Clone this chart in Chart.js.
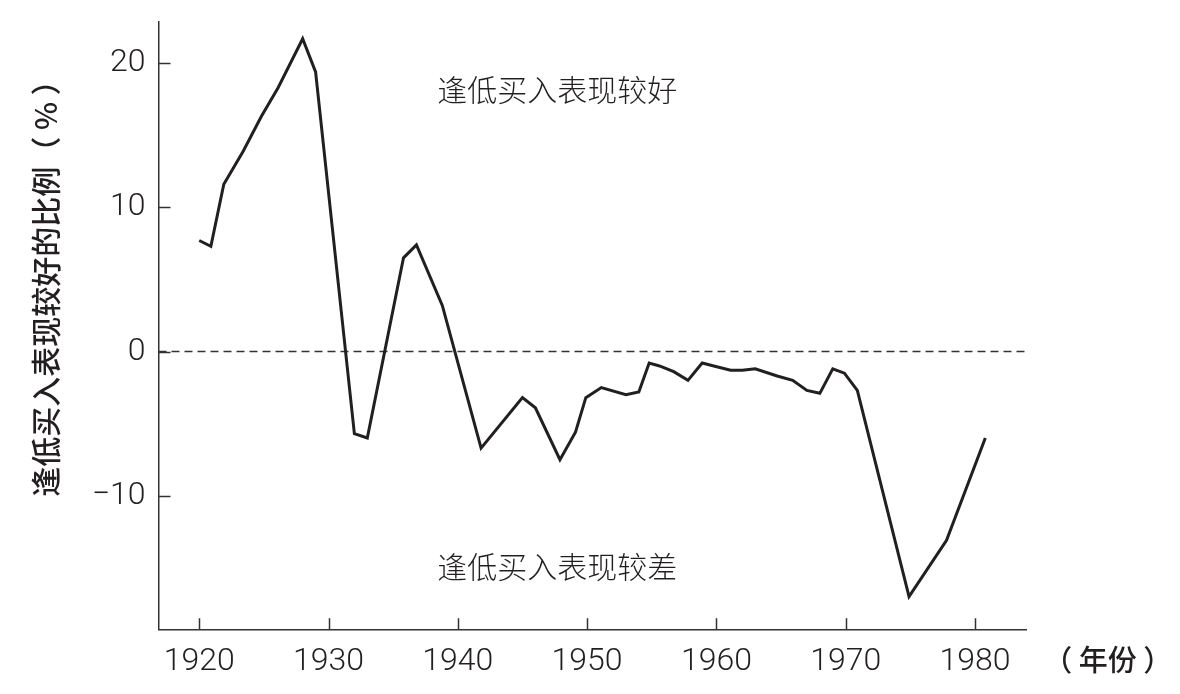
<!DOCTYPE html>
<html>
<head>
<meta charset="utf-8">
<script src="https://cdn.jsdelivr.net/npm/chart.js@4.4.1/dist/chart.umd.min.js"></script>
<style>
  html, body { margin: 0; padding: 0; background: #fff; }
  #wrap { width: 1180px; height: 694px; }
</style>
</head>
<body>
<div id="wrap"><canvas id="chart" width="1180" height="694"></canvas></div>
<script>
"use strict";

// years (points are not on exact whole years)
const YEARS = [
  1920.0, 1920.9, 1921.9, 1923.4, 1924.8, 1926.1, 1928.0, 1929.0,
  1932.0, 1933.0, 1935.8, 1936.8, 1938.8, 1941.8, 1945.0, 1946.0,
  1947.9, 1949.1, 1949.9, 1951.1, 1953.0, 1954.0, 1954.8, 1955.6,
  1956.7, 1957.8, 1958.9, 1959.8, 1961.1, 1962.0, 1963.0, 1964.7,
  1965.9, 1967.0, 1968.0, 1969.0, 1969.9, 1970.9, 1974.9, 1977.8,
  1980.8,
];
const VALUES = [
  7.7, 7.3, 11.6, 13.9, 16.3, 18.3, 21.7, 19.4,
  -5.7, -6.0, 6.5, 7.4, 3.2, -6.7, -3.2, -3.9,
  -7.5, -5.6, -3.2, -2.5, -3.0, -2.8, -0.8, -1.0,
  -1.4, -2.0, -0.8, -1.0, -1.3, -1.3, -1.2, -1.7,
  -2.0, -2.7, -2.9, -1.2, -1.5, -2.7, -17.0, -13.1,
  -6.0,
];

const X_TICKS = [1920, 1930, 1940, 1950, 1960, 1970, 1980];
const Y_TICKS = [-10, 0, 10, 20];
const X_RANGE = [1916.85, 1984.0];
const Y_RANGE = [-19.27, 22.86];

const Y_TITLE = "逢低买入表现较好的比例（ % ）";
const X_UNIT = "（ 年份 ）";
const NOTE_UP = { text: "逢低买入表现较好", x: 1947.7, y: 18.2 };
const NOTE_DOWN = { text: "逢低买入表现较差", x: 1947.7, y: -14.9 };

const INK = "#231f20";
const CJK = '"Noto Sans CJK SC", "Noto Sans", sans-serif';

Chart.defaults.font.family = 'Roboto, "Liberation Sans", sans-serif';
Chart.defaults.color = INK;

const extras = {
  id: "extras",
  afterDraw(chart) {
    const { ctx, chartArea: a, scales: { x, y } } = chart;
    ctx.save();
    // inward tick marks
    ctx.strokeStyle = "#333";
    ctx.lineWidth = 1.5;
    ctx.beginPath();
    for (const t of X_TICKS) {
      const px = Math.round(x.getPixelForValue(t)) + 0.5;
      ctx.moveTo(px, a.bottom);
      ctx.lineTo(px, a.bottom - 11);
    }
    for (const t of Y_TICKS) {
      const py = Math.round(y.getPixelForValue(t)) + 0.5;
      ctx.moveTo(a.left, py);
      ctx.lineTo(a.left + 12, py);
    }
    ctx.stroke();

    // notes inside the plot
    ctx.fillStyle = INK;
    ctx.textAlign = "center";
    ctx.textBaseline = "middle";
    ctx.font = "300 30px " + CJK;
    for (const n of [NOTE_UP, NOTE_DOWN]) {
      ctx.fillText(n.text, x.getPixelForValue(n.x), y.getPixelForValue(n.y));
    }

    // unit after the x labels
    ctx.font = "500 29px " + CJK;
    ctx.fillText(X_UNIT, a.right + 81, a.bottom + 31);

    // y title
    ctx.translate(46, 281);
    ctx.rotate(-Math.PI / 2);
    ctx.font = "500 30px " + CJK;
    ctx.fillText(Y_TITLE, 0, 0);
    ctx.restore();
  },
};

new Chart(document.getElementById("chart"), {
  type: "line",
  data: {
    datasets: [
      {
        data: YEARS.map((yr, i) => ({ x: yr, y: VALUES[i] })),
        borderColor: INK,
        borderWidth: 3,
        borderJoinStyle: "miter",
        pointRadius: 0,
        tension: 0,
        order: 1,
      },
      {
        data: [{ x: X_RANGE[0], y: 0 }, { x: X_RANGE[1], y: 0 }],
        borderColor: "#333",
        borderWidth: 1.5,
        borderDash: [8, 5],
        pointRadius: 0,
        order: 2,
      },
    ],
  },
  options: {
    responsive: false,
    animation: false,
    layout: { padding: { top: 22, right: 153.3, left: 0, bottom: 0 } },
    plugins: { legend: { display: false }, tooltip: { enabled: false } },
    scales: {
      x: {
        type: "linear",
        min: X_RANGE[0],
        max: X_RANGE[1],
        afterFit: (s) => { s.height = 64.7; s.paddingLeft = 0; s.paddingRight = 0; },
        afterBuildTicks: (s) => { s.ticks = X_TICKS.map((v) => ({ value: v })); },
        grid: { display: false, drawTicks: false },
        border: { display: true, color: "#333", width: 1.5 },
        ticks: {
          padding: 13,
          maxRotation: 0,
          autoSkip: false,
          color: INK,
          font: { size: 32, weight: "300" },
          callback: (v) => String(v),
        },
      },
      y: {
        min: Y_RANGE[0],
        max: Y_RANGE[1],
        afterFit: (s) => { s.width = 158.5; s.paddingTop = 0; s.paddingBottom = 0; },
        afterBuildTicks: (s) => { s.ticks = Y_TICKS.map((v) => ({ value: v })); },
        grid: { display: false, drawTicks: false },
        border: { display: true, color: "#333", width: 1.5 },
        ticks: {
          padding: 13,
          color: INK,
          font: { size: 32, weight: "300" },
          callback: (v) => (v < 0 ? "\u2212" + Math.abs(v) : String(v)),
        },
      },
    },
  },
  plugins: [extras],
});
</script>
</body>
</html>
